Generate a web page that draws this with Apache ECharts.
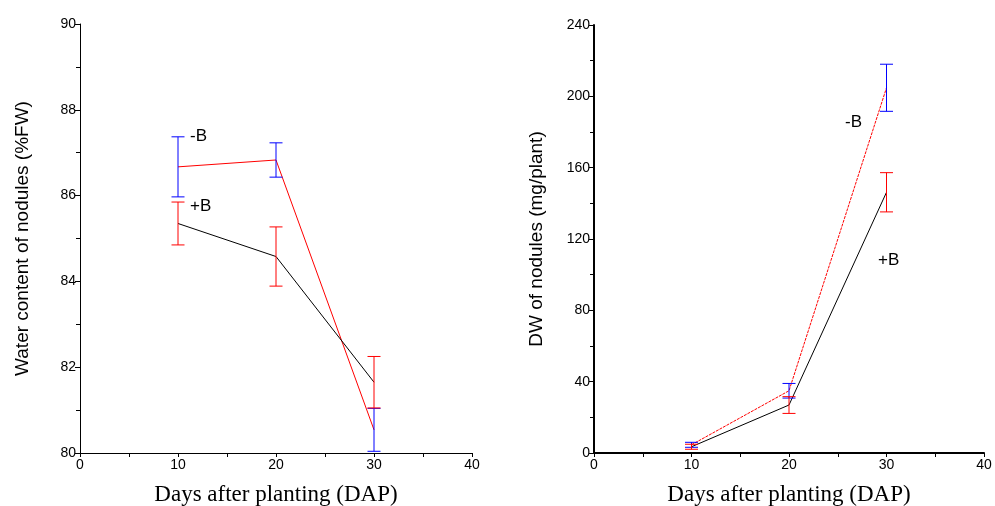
<!DOCTYPE html>
<html>
<head>
<meta charset="utf-8">
<script src="https://cdn.jsdelivr.net/npm/echarts@6/dist/echarts.min.js"></script>
<style>
  html, body { margin: 0; padding: 0; background: #fff; }
  #main { width: 995px; height: 506px; }
</style>
</head>
<body>
<div id="main"></div>
<script>
// days after planting
const days = [10, 20, 30];

// water content of nodules (%FW)
const wcMinusB = [86.67, 86.83, 80.54];
const wcMinusBErr = [0.7, 0.4, 0.5];
const wcPlusB = [85.35, 84.58, 81.65];
const wcPlusBErr = [0.5, 0.69, 0.6];

// dry weight of nodules (mg/plant)
const dwMinusB = [4.6, 34.9, 204.8];
const dwMinusBErr = [1.4, 4.1, 13.2];
const dwPlusB = [3.5, 26.9, 146.2];
const dwPlusBErr = [1.4, 4.7, 11.0];

const sans = 'Liberation Sans';
const serif = 'Liberation Serif';

function pairs(xs, ys) {
  return xs.map((x, i) => [x, ys[i]]);
}

function errData(xs, ys, err, floor) {
  return xs.map((x, i) => [x, Math.max(ys[i] - err[i], floor), ys[i] + err[i]]);
}

// error bar with caps
function errorBar(color) {
  return function (params, api) {
    const top = api.coord([api.value(0), api.value(2)]);
    const bot = api.coord([api.value(0), api.value(1)]);
    const w = 6.5;
    const style = { stroke: color, lineWidth: 1 };
    return {
      type: 'group',
      children: [
        { type: 'line', shape: { x1: top[0], y1: top[1], x2: bot[0], y2: bot[1] }, style },
        { type: 'line', shape: { x1: top[0] - w, y1: top[1], x2: top[0] + w, y2: top[1] }, style },
        { type: 'line', shape: { x1: bot[0] - w, y1: bot[1], x2: bot[0] + w, y2: bot[1] }, style }
      ]
    };
  };
}

function xAxis(idx, lineW) {
  return {
    type: 'value', gridIndex: idx, min: 0, max: 40, interval: 10,
    name: 'Days after planting (DAP)', nameLocation: 'middle', nameGap: 30,
    nameTextStyle: { fontFamily: serif, fontSize: 23, color: '#000' },
    axisLine: { lineStyle: { color: '#000', width: lineW } },
    axisTick: { length: 4, lineStyle: { color: '#000' } },
    minorTick: { show: true, splitNumber: 2, length: 4, lineStyle: { color: '#000' } },
    axisLabel: { fontFamily: sans, fontSize: 14, color: '#000', margin: 5 },
    splitLine: { show: false }
  };
}

function yAxis(idx, min, max, interval, name, gap, lineW) {
  return {
    type: 'value', gridIndex: idx, min, max, interval,
    name, nameLocation: 'middle', nameGap: gap, nameRotate: 90,
    nameTextStyle: { fontFamily: sans, fontSize: 19, color: '#000' },
    axisLine: { show: true, lineStyle: { color: '#000', width: lineW } },
    axisTick: { show: true, length: 5, lineStyle: { color: '#000' } },
    minorTick: { show: true, splitNumber: 2, length: 4, lineStyle: { color: '#000' } },
    axisLabel: { fontFamily: sans, fontSize: 14, color: '#000', margin: 4 },
    splitLine: { show: false }
  };
}

const chart = echarts.init(document.getElementById('main'));

chart.setOption({
  animation: false,
  backgroundColor: '#fff',
  grid: [
    { left: 80, right: 523, top: 24, bottom: 53, outerBoundsMode: 'none', containLabel: false },
    { left: 594, right: 11, top: 25, bottom: 53, outerBoundsMode: 'none', containLabel: false }
  ],
  xAxis: [xAxis(0, 1), xAxis(1, 2)],
  yAxis: [
    yAxis(0, 80, 90, 2, 'Water content of nodules (%FW)', 48, 1),
    yAxis(1, 0, 240, 40, 'DW of nodules (mg/plant)', 48, 2)
  ],
  graphic: [
    { type: 'text', left: 190, top: 128, style: { text: '-B', font: '17px "Liberation Sans"', fill: '#000' } },
    { type: 'text', left: 190, top: 198, style: { text: '+B', font: '17px "Liberation Sans"', fill: '#000' } },
    { type: 'text', left: 845, top: 114, style: { text: '-B', font: '17px "Liberation Sans"', fill: '#000' } },
    { type: 'text', left: 878, top: 252, style: { text: '+B', font: '17px "Liberation Sans"', fill: '#000' } }
  ],
  series: [
    {
      type: 'line', xAxisIndex: 0, yAxisIndex: 0, data: pairs(days, wcMinusB),
      symbol: 'none', lineStyle: { color: '#ff0000', width: 1 }, z: 3
    },
    {
      type: 'line', xAxisIndex: 0, yAxisIndex: 0, data: pairs(days, wcPlusB),
      symbol: 'none', lineStyle: { color: '#000', width: 1 }, z: 3
    },
    {
      type: 'custom', xAxisIndex: 0, yAxisIndex: 0, data: errData(days, wcMinusB, wcMinusBErr, 80),
      renderItem: errorBar('#0000ff'), z: 4
    },
    {
      type: 'custom', xAxisIndex: 0, yAxisIndex: 0, data: errData(days, wcPlusB, wcPlusBErr, 80),
      renderItem: errorBar('#ff0000'), z: 4
    },
    {
      type: 'line', xAxisIndex: 1, yAxisIndex: 1, data: pairs(days, dwMinusB),
      symbol: 'none', lineStyle: { color: '#ff0000', width: 1, type: [3, 1] }, z: 3
    },
    {
      type: 'line', xAxisIndex: 1, yAxisIndex: 1, data: pairs(days, dwPlusB),
      symbol: 'none', lineStyle: { color: '#000', width: 1 }, z: 3
    },
    {
      type: 'custom', xAxisIndex: 1, yAxisIndex: 1, data: errData(days, dwMinusB, dwMinusBErr, 0),
      renderItem: errorBar('#0000ff'), z: 4
    },
    {
      type: 'custom', xAxisIndex: 1, yAxisIndex: 1, data: errData(days, dwPlusB, dwPlusBErr, 0),
      renderItem: errorBar('#ff0000'), z: 4
    }
  ]
});
</script>
</body>
</html>
